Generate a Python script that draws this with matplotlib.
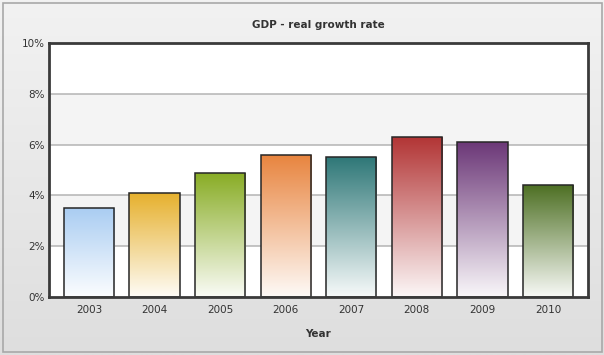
import numpy as np
import matplotlib
matplotlib.use("Agg")
import matplotlib.pyplot as plt
from matplotlib.colors import to_rgb
from matplotlib.patches import Rectangle

years = ["2003", "2004", "2005", "2006", "2007", "2008", "2009", "2010"]
growth = [3.5, 4.1, 4.9, 5.6, 5.5, 6.3, 6.1, 4.4]
colors = ["#aacdf2", "#e6b02c", "#88ac24", "#e8843e", "#2f7878", "#b23434", "#6c3878", "#4e7024"]
yticks = [0, 2, 4, 6, 8, 10]
ytick_labels = [f"{v}%" for v in yticks]
title = "GDP - real growth rate"
xlabel = "Year"

W, H = 604, 355
fig = plt.figure(figsize=(W / 100, H / 100), dpi=100)

# figure background gradient
bg = fig.add_axes([0, 0, 1, 1], zorder=-10)
grad = np.linspace(0, 1, 256)[:, None]
c_top = np.array(to_rgb("#f2f2f2"))
c_bot = np.array(to_rgb("#dedede"))
img = c_top[None, None, :] * (1 - grad[:, :, None]) + c_bot[None, None, :] * grad[:, :, None]
bg.imshow(img, aspect="auto", extent=(0, 1, 0, 1), origin="upper")
bg.set_xlim(0, 1); bg.set_ylim(0, 1)
bg.add_patch(Rectangle((3 / W, 3 / H), (W - 5) / W, (H - 6) / H, fill=False,
                       edgecolor="#a8a8a8", lw=1.2, transform=bg.transAxes))
bg.axis("off")

ax = fig.add_axes([49 / W, (H - 297) / H, (588 - 49) / W, (297 - 43) / H])
ax.set_facecolor("white")
x = np.arange(len(years))
margin = 0.61

# alternating bands
for i in range(0, len(yticks) - 1):
    if i % 2 == 1:
        ax.axhspan(yticks[i], yticks[i + 1], color="#f4f4f4", zorder=0, lw=0)
for v in yticks[1:-1]:
    ax.axhline(v, color="#b4b4b4", lw=1.1, zorder=1)

bars = ax.bar(x, growth, width=0.765, facecolor="none", edgecolor="#262626", lw=1.1, zorder=4)
t = np.linspace(0, 1, 200)[:, None]
for b, c in zip(bars, colors):
    top = np.array(to_rgb(c))
    bottom = top * 0.04 + np.ones(3) * 0.96
    g = top[None, None, :] * (1 - t[:, :, None]) + bottom[None, None, :] * t[:, :, None]
    x0 = b.get_x(); w = b.get_width(); h = b.get_height()
    im = ax.imshow(g, aspect="auto", extent=(x0, x0 + w, 0, h), origin="upper", zorder=3)
    clip = Rectangle((x0, 0), w, h, transform=ax.transData)
    im.set_clip_path(clip)
ax.set_xlim(-margin, len(years) - 1 + margin)
ax.set_ylim(0, 10)

ax.set_xticks(x)
ax.set_xticklabels(years)
ax.set_yticks(yticks)
ax.set_yticklabels(ytick_labels)
ax.tick_params(axis="both", length=0, labelsize=7.5, colors="#333333", pad=6)
ax.tick_params(axis="y", pad=3)
for s in ax.spines.values():
    s.set_color("#3a3a3a")
    s.set_linewidth(2)
    s.set_zorder(6)

ax.set_xlabel(xlabel, fontsize=7.5, fontweight="bold", color="#333333", labelpad=10)
fig.text(0.5 * (49 + 588) / W, (H - 25) / H, title, ha="center", va="center",
         fontsize=7.5, fontweight="bold", color="#333333")

fig.savefig("out.png", dpi=100)
